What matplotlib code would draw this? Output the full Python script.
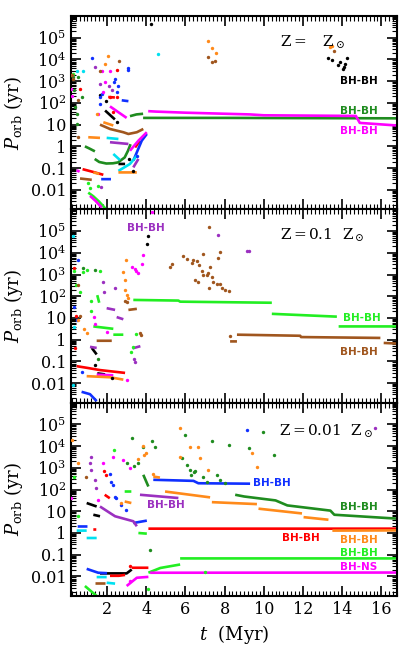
import numpy as np
import matplotlib
matplotlib.use("Agg")
import matplotlib.pyplot as plt
from matplotlib.ticker import MultipleLocator, LogLocator, FuncFormatter, NullFormatter

nan = float("nan")

# ---------------- Panel 1 : Z = Zsun (t in Myr, log10 Porb in yr) ----------------
p1_green_t = [3.17, 3.5, 3.84, nan, 3.84, 8.0, 12.0, 16.8, nan,
              1.37, 1.6, 1.96, 2.3, 2.56, 2.9, 3.07, 3.2, nan, 0.87, 1.1, 1.38]
p1_green_logP = [1.39, 1.47, 1.5, nan, 1.31, 1.31, 1.30, 1.29, nan,
                 -0.58, -0.72, -0.79, -0.78, -0.74, -0.51, -0.2, 0.1, nan, 0.0, -0.1, -0.23]
p1_magenta_t = [4.1, 4.5, 6.0, 9.3, 10.0, 14.7, 14.9, 16.8, nan, 1.13, 1.4, 1.73, nan,
                0.45, 0.6, nan, 2.15, 2.58, 3.0, nan, 3.17, 3.6, 4.03]
p1_magenta_logP = [1.62, 1.6, 1.55, 1.47, 1.43, 1.40, 1.08, 0.96, nan, -2.28, -2.5, -2.82, nan,
                   -1.1, -1.17, nan, 1.84, 1.57, 1.31, nan, -0.2, 0.26, 0.65]
p1_lime_t = [1.04, 1.3, 1.6, 1.85, 2.0]
p1_lime_logP = [-2.13, -2.3, -2.55, -2.8, -2.95]
p1_red_t = [0.75, 1.3, 1.81, nan, 2.06, 2.4, nan, 3.43, 3.68]
p1_red_logP = [-1.05, -1.18, -1.31, nan, 2.27, 2.25, nan, -0.05, 0.26]
p1_blue_t = [1.7, 2.2, nan, 2.75, 3.09, nan, 3.34, 3.77, 4.03]
p1_blue_logP = [-1.51, -1.51, nan, 2.12, 2.08, nan, -0.66, 0.26, 0.57]
p1_brown_t = [0.62, 1.22, nan, 1.64, 2.15, 2.83, 3.09, 3.52, 3.85]
p1_brown_logP = [-1.48, -1.54, nan, 1.0, 0.8, 0.65, 0.57, 0.65, 0.8]
p1_orange_t = [1.04, 1.64, nan, 1.81, 2.32, nan, 2.58, 3.52, nan, 1.3, 1.6]
p1_orange_logP = [0.42, 0.39, nan, 1.11, 0.96, nan, -1.2, -1.2, nan, -1.2, -1.27]
p1_cyan_t = [1.98, 2.58, nan, 2.32, 2.66, nan, 2.58, 3.17, 3.52]
p1_cyan_logP = [0.39, 0.34, nan, -0.35, -0.63, nan, -1.13, -0.81, -0.43]
p1_purple_t = [2.15, 3.09, nan, 3.34, 3.6]
p1_purple_logP = [0.19, 0.11, nan, -0.97, -0.58]
p1_black_t = [1.9, 2.4, nan, 2.58, 2.92]
p1_black_logP = [1.65, 1.24, nan, -0.81, -0.81]

p1_dots_blue = [(1.22, 4.07), (2.41, 3.12), (3.09, 3.5), (3.05, 3.62), (2.58, 2.76), (2.49, 2.5),
                (1.64, 2.27), (1.64, 1.96), (1.75, 2.4), (3.52, -0.43), (2.35, 2.95)]
p1_dots_magenta = [(1.73, 3.47), (2.15, 3.46), (1.9, 2.96), (1.81, 2.5), (0.16, 2.66), (0.2, 2.3), (1.55, 1.5)]
p1_dots_orange = [(2.06, 4.15), (1.9, 3.81), (7.17, 4.86), (7.35, 4.51), (7.57, 4.31), (13.39, 4.58),
                  (13.48, 4.63), (1.5, 1.5), (0.16, 3.3)]
p1_dots_brown = [(2.63, 3.94), (1.64, 3.46), (7.17, 4.12), (7.35, 3.89), (7.52, 3.94), (0.25, 3.12),
                 (0.53, 2.12), (0.53, 0.42), (13.56, 4.38), (0.2, 3.3)]
p1_dots_red = [(2.52, 3.5), (0.62, 2.66), (2.15, 2.27), (2.49, 2.27), (2.3, 1.6)]
p1_dots_purple = [(1.38, 3.66), (1.64, 2.89), (2.24, 2.58), (2.1, 2.8), (1.7, -1.88)]
p1_dots_cyan = [(0.45, 3.46), (0.79, 3.46), (4.62, 4.23)]
p1_dots_green = [(0.28, 3.19), (0.53, 3.19), (0.7, 2.27), (0.36, 1.81), (0.48, 1.04), (0.45, 1.5), (0.3, 2.6)]
p1_dots_lime = [(1.04, -1.67), (1.55, -1.82), (1.13, -1.9), (0.28, 3.35)]
p1_dots_black = [(4.23, 5.63), (1.64, 2.35), (1.95, 2.1), (2.5, 1.1), (3.3, -1.15), (3.1, -0.6),
                 (13.3, 4.05), (13.48, 3.97), (13.77, 3.74), (13.9, 3.89), (14.25, 4.05),
                 (14.16, 3.77), (14.04, 3.58), (14.1, 3.64)]

# ---------------- Panel 2 : Z = 0.1 Zsun ----------------
p2_lime_t = [3.34, 5.64, 5.73, 10.41, nan, 10.41, 13.73, nan, 13.82, 16.82, nan,
             1.3, 2.32, nan, 2.32, 2.83, nan, 1.5, 1.6]
p2_lime_logP = [1.83, 1.8, 1.75, 1.70, nan, 1.19, 1.06, nan, 0.61, 0.61, nan,
                0.61, 0.5, nan, 0.23, 0.23, nan, 2.05, 1.7]
p2_brown_t = [8.63, 11.86, 11.9, 15.95, nan, 16.12, 16.82, nan, 8.28, 8.63, nan,
              1.47, 2.24, nan, 3.09, 3.52]
p2_brown_logP = [0.23, 0.18, 0.12, 0.08, nan, -0.15, -0.18, nan, -0.08, -0.08, nan,
                 -0.05, -0.05, nan, 1.37, 1.42]
p2_red_t = [0.45, 1.0, 1.64, 2.92]
p2_red_logP = [-1.22, -1.3, -1.4, -1.53]
p2_orange_t = [0.96, 2.15, 2.83]
p2_orange_logP = [-1.68, -1.73, -1.84]
p2_magenta_t = [1.47, 2.32]
p2_magenta_logP = [-1.61, -1.64]
p2_blue_t = [0.7, 1.13, 1.47]
p2_blue_logP = [-2.4, -2.51, -2.83]
p2_purple_t = [1.98, 2.41, nan, 2.49, 2.83, nan, 1.13, 1.47, nan, 3.3, 3.7]
p2_purple_logP = [1.45, 1.37, nan, 1.04, 0.94, nan, -0.33, -0.38, nan, -0.4, -0.3]
p2_black_t = [1.22, 1.47, nan, 1.5, 1.9]
p2_black_logP = [-0.38, -0.68, nan, -1.55, -1.6]

p2_dots_brown = [(5.22, 3.35), (5.3, 3.5), (5.9, 3.84), (6.07, 3.73), (6.33, 3.53), (6.41, 3.68),
                 (6.58, 3.61), (6.71, 3.42), (6.84, 3.18), (6.92, 3.0), (7.09, 2.97), (7.17, 3.07),
                 (7.26, 3.35), (7.35, 2.89), (7.43, 2.66), (7.6, 2.58), (7.77, 2.58), (7.86, 2.36),
                 (8.03, 2.28), (8.2, 2.25), (6.49, 2.74), (6.66, 2.66), (7.22, 2.36), (6.92, 3.96),
                 (7.77, 4.03), (7.68, 3.77), (7.22, 5.17), (8.25, 0.18), (2.92, 1.8), (3.0, 1.75),
                 (3.7, 0.3), (3.72, 0.2), (0.5, 2.5), (0.6, 1.1)]
p2_dots_purple = [(7.64, 4.84), (9.14, 4.06), (9.27, 4.06), (1.81, 2.66), (2.41, 2.36), (1.85, 2.2),
                  (3.4, -0.9), (3.45, -1.05)]
p2_dots_magenta = [(4.28, 5.89), (3.26, 3.35), (3.43, 3.27), (3.6, 3.05), (3.77, 3.5), (3.85, 3.88),
                   (3.5, 3.15), (1.35, 1.05), (1.4, 0.7), (2.0, 0.35), (3.0, -1.85)]
p2_dots_black = [(4.11, 4.75), (4.03, 4.42), (2.25, -1.75), (1.4, -1.15)]
p2_dots_orange = [(2.83, 3.12), (2.92, 2.74), (2.92, 2.28), (3.0, 2.05), (3.09, 1.9), (2.97, 3.65),
                  (0.5, 0.9), (0.8, 0.5), (1.0, 0.3)]
p2_dots_lime = [(0.96, 3.2), (0.79, 3.12), (1.64, 3.15), (0.4, 2.5), (0.6, 2.2), (1.2, 1.3),
                (3.2, -0.55), (3.3, -0.35), (3.5, 0.25), (0.3, 3.15), (1.2, 1.8)]
p2_dots_cyan = [(0.25, 4.75), (0.25, -2.1), (0.3, 0.6)]
p2_dots_blue = [(0.3, 1.5), (0.45, 0.91), (0.7, -1.48), (0.53, 3.65)]
p2_dots_red = [(0.3, 3.3), (0.35, -0.4), (0.4, 1.1)]
p2_dots_green = [(0.75, 3.3), (1.4, 3.2), (1.55, -0.9)]

# ---------------- Panel 3 : Z = 0.01 Zsun ----------------
p3_red_t = [4.11, 16.82, nan, 1.3, 1.45, nan, 2.15, 2.6, 2.92, nan, 3.26, 4.11, nan, 1.88, 2.14]
p3_red_logP = [0.2, 0.2, nan, 0.16, 0.16, nan, -1.97, -1.97, -1.93, nan, -1.6, -1.6, nan, 1.76, 1.6]
p3_orange_t = [4.96, 7.26, nan, 7.35, 9.65, nan, 9.73, 11.95, nan, 12.03, 13.3, nan,
               13.5, 16.82, nan, 4.36, 4.7, nan, 2.9, 3.24]
p3_orange_logP = [1.91, 1.64, nan, 1.42, 1.33, nan, 1.12, 0.9, nan, 0.73, 0.61, nan,
                  0.11, 0.12, nan, 2.6, 2.55, nan, 1.45, 1.38]
p3_magenta_t = [4.2, 16.82, nan, 3.0, 3.52, 4.11]
p3_magenta_logP = [-1.83, -1.82, nan, -2.44, -2.06, -2.02]
p3_lime_t = [4.11, 4.72, 5.73, nan, 5.73, 16.82, nan, 3.6, 4.03, nan, 0.87, 1.47, nan, 2.9, 3.24]
p3_lime_logP = [-1.83, -1.61, -1.45, nan, -1.17, -1.17, nan, 0.0, -0.03, nan, -2.44, -2.9, nan, 1.91, 1.91]
p3_green_t = [8.54, 9.0, 10.6, 11.2, 13.4, 13.6, 16.82, nan, 3.85, 4.11]
p3_green_logP = [1.76, 1.68, 1.5, 1.27, 1.03, 0.84, 0.66, nan, 2.68, 2.14]
p3_blue_t = [4.36, 6.41, 6.66, 9.3, nan, 0.5, 1.0, nan, 3.34, 4.03, nan, 0.96, 1.55, 2.0]
p3_blue_logP = [2.45, 2.4, 2.29, 2.27, nan, 0.3, 0.3, nan, 0.46, 0.57, nan, -1.65, -1.83, -1.85]
p3_cyan_t = [0.45, 0.96, nan, 0.96, 1.47, nan, 1.47, 1.98, nan, 1.98, 2.41]
p3_cyan_logP = [0.11, 0.11, nan, -0.23, -0.23, nan, -2.03, -2.03, nan, -2.29, -2.33]
p3_purple_t = [3.68, 5.64, nan, 1.64, 2.15, 2.41, 3.34, 3.52]
p3_purple_logP = [1.76, 1.61, nan, 1.22, 0.92, 0.77, 0.54, 0.31]
p3_black_t = [0.96, 1.47, nan, 1.3, 1.64, nan, 1.64, 3.0, 3.26]
p3_black_logP = [1.38, 1.22, nan, 0.84, 0.77, nan, -1.86, -1.86, -1.68]
p3_brown_t = [1.38, 1.9]
p3_brown_logP = [-2.29, -2.29]

p3_dots_orange = [(5.73, 4.82), (5.73, 3.52), (6.24, 3.98), (6.66, 3.98), (6.75, 3.44), (7.17, 2.91),
                  (9.39, 3.67), (9.65, 3.06), (3.6, 3.4), (3.9, 3.6), (4.0, 3.7), (3.85, 4.0),
                  (0.2, 4.3), (0.5, 3.2), (2.7, 1.4), (4.36, 2.7)]
p3_dots_green = [(5.98, 4.51), (3.26, 4.39), (4.28, 4.24), (7.35, 4.24), (9.98, 4.63), (5.81, 3.44),
                 (6.07, 3.14), (6.24, 2.91), (6.5, 2.85), (6.92, 2.6), (7.09, 2.37), (8.2, 4.06),
                 (9.22, 3.9), (10.5, 3.6), (4.45, 3.98), (3.85, 3.98), (7.6, 2.68), (7.77, 2.45),
                 (8.0, 2.3), (3.0, 3.2), (3.4, 3.1), (3.6, 3.2), (4.2, -0.76), (6.3, 2.65), (6.45, 2.8)]
p3_dots_blue = [(9.14, 4.74), (2.14, 2.71), (2.22, 2.37), (2.3, 2.22), (2.48, 1.6), (2.73, 1.3),
                (2.99, 1.07), (2.41, 1.68)]
p3_dots_purple = [(15.69, 4.82), (1.16, 3.52), (1.11, 3.21), (1.2, 2.91), (1.37, 2.45), (1.45, 2.06)]
p3_dots_magenta = [(1.79, 3.21), (2.82, 3.37), (3.16, 2.98), (0.17, 1.6), (1.54, 1.53), (3.16, -2.2),
                   (2.32, 3.52)]
p3_dots_lime = [(2.36, 3.82), (0.3, 2.6), (0.5, 0.8), (4.09, -2.6), (7.0, -1.8)]
p3_dots_brown = [(0.94, 2.6)]
p3_dots_red = [(1.85, 2.86), (1.96, 2.68), (3.16, -1.53)]

COL = {"black": "#000000", "red": "#ff0000", "green": "#1f8c1f", "lime": "#22ee22",
       "blue": "#1030ff", "cyan": "#00e0f0", "magenta": "#ff00ff", "purple": "#9b30c0",
       "orange": "#ff8a1a", "brown": "#a0561e"}

plt.rcParams["font.family"] = ["DejaVu Serif"]
plt.rcParams["mathtext.fontset"] = "dejavuserif"

fig, axes = plt.subplots(3, 1, sharex=True, figsize=(4.09, 6.54), dpi=100,
                         gridspec_kw=dict(hspace=0))
fig.subplots_adjust(left=0.1736, right=0.9707, top=0.9755, bottom=0.0887)

g = globals()
for i, ax in enumerate(axes, start=1):
    for c in COL:
        tn, pn = f"p{i}_{c}_t", f"p{i}_{c}_logP"
        if tn in g:
            ax.plot(g[tn], 10 ** np.asarray(g[pn], dtype=float), color=COL[c], lw=1.9,
                    solid_capstyle="butt", zorder=2)
        dn = f"p{i}_dots_{c}"
        if dn in g:
            arr = np.asarray(g[dn], dtype=float)
            ax.scatter(arr[:, 0], 10 ** arr[:, 1], s=6, color=COL[c], lw=0, zorder=3)


def yfmt(v, pos):
    e = int(round(np.log10(v)))
    if abs(np.log10(v) - e) > 1e-6 or e < -2 or e > 5:
        return ""
    return {-2: "0.01", -1: "0.1", 0: "1", 1: "10"}.get(e, rf"$10^{{{e}}}$")


for ax in axes:
    ax.set_yscale("log")
    ax.set_ylim(10 ** -2.9, 10 ** 6.0)
    ax.set_xlim(0.16, 16.8)
    ax.xaxis.set_major_locator(MultipleLocator(2))
    ax.xaxis.set_minor_locator(MultipleLocator(0.2))
    ax.yaxis.set_major_locator(LogLocator(base=10, numticks=20))
    ax.yaxis.set_minor_locator(LogLocator(base=10, subs=np.arange(2, 10), numticks=20))
    ax.yaxis.set_major_formatter(FuncFormatter(yfmt))
    ax.yaxis.set_minor_formatter(NullFormatter())
    ax.tick_params(which="both", direction="in", top=True, right=True, labelsize=11.5)
    ax.tick_params(which="major", length=7, width=1.2)
    ax.tick_params(which="minor", length=3.5, width=0.8)
    for s in ax.spines.values():
        s.set_linewidth(1.5)
    ax.set_ylabel(r"$P_{\rm orb}$ (yr)", fontsize=13, labelpad=4)

axes[2].set_xlabel(r"$t$  (Myr)", fontsize=13)

zkw = dict(fontsize=11, ha="left", va="center")
axes[0].text(10.84, 10 ** 4.8, r"Z$\,$=$\,$   Z$_\odot$", **zkw)
axes[1].text(10.84, 10 ** 4.8, r"Z$\,$=$\,$0.1  Z$_\odot$", **zkw)
axes[2].text(10.8, 10 ** 4.66, r"Z$\,$=$\,$0.01  Z$_\odot$", **zkw)

lkw = dict(fontsize=7.5, ha="left", va="center", family="DejaVu Sans", weight="bold")
axes[0].text(13.9, 10 ** 3.0, "BH-BH", color=COL["black"], **lkw)
axes[0].text(13.9, 10 ** 1.65, "BH-BH", color=COL["green"], **lkw)
axes[0].text(13.9, 10 ** 0.69, "BH-BH", color=COL["magenta"], **lkw)
axes[1].text(3.02, 10 ** 5.16, "BH-BH", color=COL["purple"], **lkw)
axes[1].text(14.06, 10 ** 1.0, "BH-BH", color=COL["lime"], **lkw)
axes[1].text(13.9, 10 ** -0.58, "BH-BH", color=COL["brown"], **lkw)
axes[2].text(9.46, 10 ** 2.29, "BH-BH", color=COL["blue"], **lkw)
axes[2].text(4.04, 10 ** 1.27, "BH-BH", color=COL["purple"], **lkw)
axes[2].text(13.9, 10 ** 1.18, "BH-BH", color=COL["green"], **lkw)
axes[2].text(10.94, 10 ** -0.23, "BH-BH", color=COL["red"], **lkw)
axes[2].text(13.9, 10 ** -0.3, "BH-BH", color=COL["orange"], **lkw)
axes[2].text(13.9, 10 ** -0.92, "BH-BH", color=COL["lime"], **lkw)
axes[2].text(13.9, 10 ** -1.57, "BH-NS", color=COL["magenta"], **lkw)

fig.savefig("out.png", dpi=100)
